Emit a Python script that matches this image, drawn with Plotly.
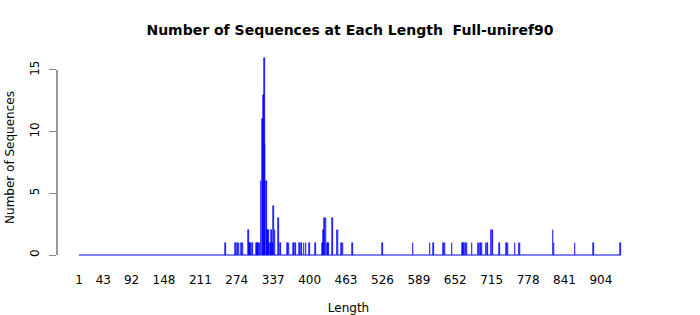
import plotly.graph_objects as go

# ---- data ----
lengths = [254, 272, 275, 278, 282, 285, 294, 296, 298, 301,
           308, 310, 312, 314, 316, 318, 320, 322, 323, 325,
           327, 329, 330, 332, 334, 336, 338, 340, 346, 350,
           362, 364, 372, 376, 382, 386, 390, 394, 400, 410,
           422, 424, 426, 428, 431, 433, 440, 447, 449, 455,
           458, 474, 526, 579, 608, 614, 632, 634, 646, 664,
           666, 670, 672, 681, 691, 693, 696, 698, 705, 708,
           714, 716, 729, 741, 743, 755, 762, 764, 821, 823,
           859, 891, 938]
counts = [1, 1, 1, 1, 1, 1, 2, 1, 1, 1,
          1, 1, 1, 1, 6, 11, 13, 16, 9, 6,
          2, 2, 1, 1, 2, 1, 4, 2, 3, 1,
          1, 1, 1, 1, 1, 1, 1, 1, 1, 1,
          1, 2, 3, 3, 1, 1, 3, 2, 2, 1,
          1, 1, 1, 1, 1, 1, 1, 1, 1, 1,
          1, 1, 1, 1, 1, 1, 1, 1, 1, 1,
          2, 2, 1, 1, 1, 1, 1, 1, 2, 1,
          1, 1, 1]
length_min = 1
length_max = 938
x_tick_vals = [1, 43, 92, 148, 211, 274, 337, 400, 463, 526, 589, 652, 715, 778, 841, 904]
y_tick_vals = [0, 5, 10, 15]

FONT = "DejaVu Sans"
BLUE = "#0000FF"

fig = go.Figure()
fig.add_trace(go.Bar(
    x=lengths, y=counts, width=1,
    marker=dict(color=BLUE, line=dict(color=BLUE, width=0.6)),
    hoverinfo="x+y", showlegend=False,
))

# zero baseline across the whole length range (R barplot zero-height bars)
fig.add_shape(type="line", xref="x", yref="y",
              x0=length_min, x1=length_max, y0=0, y1=0,
              line=dict(color=BLUE, width=1.2))
# R-style y axis line spanning only the tick range
fig.add_shape(type="line", xref="paper", yref="y",
              x0=0, x1=0, y0=y_tick_vals[0], y1=y_tick_vals[-1],
              line=dict(color="#333333", width=1))

fig.update_layout(
    width=700, height=315,
    margin=dict(l=57, r=60, t=50, b=50, autoexpand=False),
    paper_bgcolor="white", plot_bgcolor="white",
    font=dict(family=FONT, size=12, color="#000000"),
    bargap=0,
    title=dict(text="<b>Number of Sequences at Each Length\u00a0 Full-uniref90</b>",
               x=0.5, xanchor="center", xref="container",
               y=1 - 30 / 315, yanchor="middle", yref="container",
               font=dict(family=FONT, size=14, color="#000000")),
    xaxis=dict(range=[-37.06, 971.6], showgrid=False, zeroline=False,
               showline=False, ticks="", tickmode="array", automargin=False,
               tickvals=x_tick_vals, ticktext=[str(v) for v in x_tick_vals],
               tickfont=dict(size=12, color="#000000"),
               ticklabelstandoff=6,
               title=dict(text="Length", standoff=18,
                          font=dict(size=12, color="#000000"))),
    yaxis=dict(range=[-0.81, 16.62], showgrid=False, zeroline=False,
               showline=False, ticks="outside", ticklen=7, automargin=False,
               tickcolor="#888888", tickwidth=1,
               tickmode="array", tickvals=y_tick_vals,
               ticktext=[str(v) for v in y_tick_vals],
               tickangle=-90, ticklabelstandoff=5,
               tickfont=dict(size=12, color="#000000"),
               title=dict(text="Number of Sequences", standoff=11,
                          font=dict(size=12, color="#000000"))),
)

fig.write_html("out.html")
